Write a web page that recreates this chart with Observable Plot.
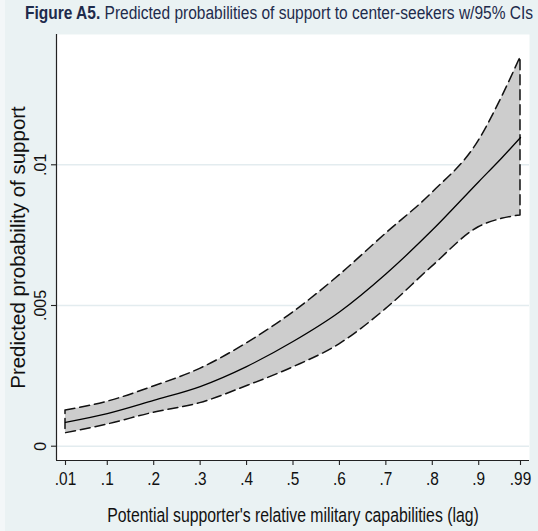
<!DOCTYPE html>
<html>
<head>
<meta charset="utf-8">
<script src="https://cdn.jsdelivr.net/npm/d3@7"></script>
<script src="https://cdn.jsdelivr.net/npm/@observablehq/plot@0.6"></script>
<style>
  html, body { margin: 0; padding: 0; }
  body { width: 538px; height: 531px; background: #eaf2f3; overflow: hidden; position: relative; }
  #strip { position: absolute; left: 0; top: 0; width: 5px; height: 531px; background: #f3f7f8; }
  #title { position: relative; height: 28px; line-height: 26px; padding-left: 25px; white-space: nowrap; overflow: visible; }
  #title span { display: inline-block; transform-origin: 0 50%; font-family: "Liberation Sans", Arial, Helvetica, sans-serif; font-size: 18px; color: #1e2b4c; }
  #title b { font-weight: bold; }
  #chart svg { display: block; }
</style>
</head>
<body>
<div id="strip"></div>
<div id="title"><span id="titleText"><b>Figure A5.</b> Predicted probabilities of support to center-seekers w/95% CIs</span></div>
<div id="chart"></div>
<script>
// capability values (x), predicted probabilities and 95% CI bounds
const capability = [0.01, 0.1, 0.2, 0.3, 0.4, 0.5, 0.6, 0.7, 0.8, 0.9, 0.95, 0.99];
const predicted  = [0.00085, 0.00116, 0.00163, 0.00212, 0.00283, 0.00372, 0.00477, 0.00612, 0.00768, 0.00940, 0.01025, 0.01097];
const ciLower    = [0.00046, 0.00077, 0.00119, 0.00153, 0.00213, 0.00280, 0.00362, 0.00487, 0.00638, 0.00778, 0.00808, 0.00820];
const ciUpper    = [0.00127, 0.00158, 0.00212, 0.00275, 0.00365, 0.00475, 0.00607, 0.00755, 0.00900, 0.01085, 0.01240, 0.01382];

const xTicks = [0.01, 0.1, 0.2, 0.3, 0.4, 0.5, 0.6, 0.7, 0.8, 0.9, 0.99];
const xTickLabels = [".01", ".1", ".2", ".3", ".4", ".5", ".6", ".7", ".8", ".9", ".99"];
const yTicks = [0, 0.005, 0.01];
const yTickLabels = ["0", ".005", ".01"];

const xTitle = "Potential supporter's relative military capabilities (lag)";
const yTitle = "Predicted probability of support";

const data = capability.map((c, i) => ({c, m: predicted[i], lo: ciLower[i], hi: ciUpper[i]}));

const W = 538, H = 503;
const mL = 56, mR = 9, mT = 6, mB = 71;
const xDomain = [-0.00938, 1.00938];
const yDomain = [-0.000508, 0.01463];
const tickPx = 5;
const xTickLen = tickPx * (yDomain[1] - yDomain[0]) / (H - mT - mB);
const yTickLen = tickPx * (xDomain[1] - xDomain[0]) / (W - mL - mR);

const font = "'Liberation Sans', Arial, Helvetica, sans-serif";

const chart = Plot.plot({
  width: W, height: H,
  marginLeft: mL, marginRight: mR, marginTop: mT, marginBottom: mB,
  x: {domain: xDomain, axis: null},
  y: {domain: yDomain, axis: null},
  style: {background: "transparent", fontFamily: font},
  marks: [
    Plot.frame({fill: "white", stroke: null}),
    Plot.ruleY(yTicks, {stroke: "#e3ecef", strokeWidth: 1.6}),
    Plot.areaY(data, {x: "c", y1: "lo", y2: "hi", fill: "#cdcdcd", stroke: "#111", strokeWidth: 1.5, strokeDasharray: "10,5", curve: "monotone-x"}),
    Plot.lineY(data, {x: "c", y: "m", stroke: "#000", strokeWidth: 1.3, curve: "monotone-x"}),
    // axis lines
    Plot.ruleX([xDomain[0]], {stroke: "#222", strokeWidth: 1.2}),
    Plot.ruleY([yDomain[0]], {stroke: "#222", strokeWidth: 1.2}),
    // ticks
    Plot.ruleX(xTicks, {x: d => d, y1: yDomain[0], y2: yDomain[0] - xTickLen, stroke: "#222", strokeWidth: 1.1}),
    Plot.ruleY(yTicks, {y: d => d, x1: xDomain[0] - yTickLen, x2: xDomain[0], stroke: "#222", strokeWidth: 1.1}),
    // tick labels
    Plot.text(xTicks, {x: d => d, y: yDomain[0], text: (d, i) => xTickLabels[i], dy: 18, fontSize: 19, fill: "#111", className: "hx"}),
    Plot.text(yTicks, {x: xDomain[0], y: d => d, text: (d, i) => yTickLabels[i], rotate: -90, dx: -16, fontSize: 16, fill: "#111"}),
    // axis titles
    Plot.text([yTitle], {text: d => d, frameAnchor: "left", textAnchor: "middle", lineAnchor: "middle", dx: -38, rotate: -90, fontSize: 20.5, fill: "#111"}),
    Plot.text([xTitle], {text: d => d, frameAnchor: "bottom", textAnchor: "middle", lineAnchor: "middle", dy: 55, fontSize: 19.5, fill: "#111", className: "hx"})
  ]
});
document.getElementById("chart").appendChild(chart);

// horizontally condense the horizontal texts, as in the reference
chart.querySelectorAll(".hx text").forEach(t => {
  const tr = t.getAttribute("transform") || "";
  t.setAttribute("transform", (tr + " scale(0.81,1)").trim());
});
const ts = document.getElementById("titleText");
const tw = ts.getBoundingClientRect().width;
ts.style.transform = `scaleX(${(508 / tw).toFixed(4)})`;
</script>
</body>
</html>
